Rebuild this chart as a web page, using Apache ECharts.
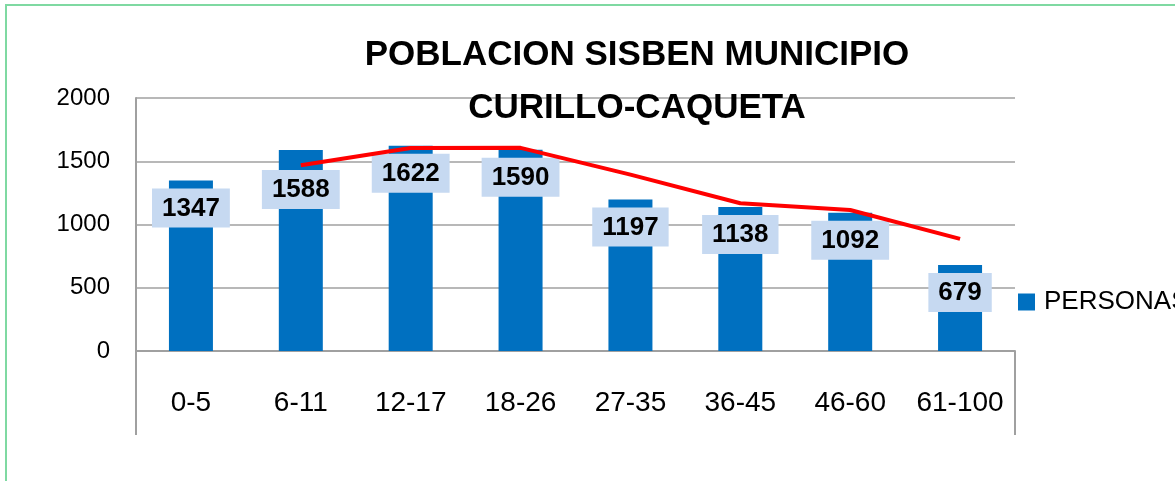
<!DOCTYPE html>
<html>
<head>
<meta charset="utf-8">
<style>
  html, body { margin: 0; padding: 0; background: #fff; }
  #chart { width: 1175px; height: 481px; }
</style>
<script src="https://cdn.jsdelivr.net/npm/echarts@6/dist/echarts.min.js"></script>
</head>
<body>
<div id="chart"></div>
<script>
const categories = ['0-5', '6-11', '12-17', '18-26', '27-35', '36-45', '46-60', '61-100']
const personas = [1347, 1588, 1622, 1590, 1197, 1138, 1092, 679]
// red trend line (starts at the second group)
const trend = [null, 1468, 1605, 1606, 1394, 1168, 1115, 886]
const yTicks = [0, 500, 1000, 1500, 2000]

const chart = echarts.init(document.getElementById('chart'))
const gridColor = '#a0a0a0'

chart.setOption({
  animation: false,
  backgroundColor: '#fff',
  textStyle: { fontFamily: 'Liberation Sans, Arial, sans-serif' },
  graphic: [{
    type: 'rect',
    shape: { x: 6, y: 5, width: 1300, height: 600 },
    style: { fill: 'none', stroke: '#7fd9a2', lineWidth: 2 }
  }],
  title: {
    text: 'POBLACION SISBEN MUNICIPIO\nCURILLO-CAQUETA',
    left: 632,
    top: 24,
    textAlign: 'center',
    textStyle: {
      fontSize: 35, fontWeight: 'bold', color: '#000', lineHeight: 53,
      fontFamily: 'Liberation Sans, Arial, sans-serif'
    }
  },
  legend: {
    data: [{ name: 'PERSONAS', icon: 'rect' }],
    left: 1013,
    top: 284,
    itemWidth: 17,
    itemHeight: 17,
    itemGap: 0,
    textStyle: { fontSize: 26, color: '#000', padding: [0, 0, 0, 4] }
  },
  grid: { left: 136, right: 160, top: 98, bottom: 130 },
  xAxis: {
    type: 'category',
    data: categories,
    axisLine: { lineStyle: { color: gridColor, width: 2 } },
    axisTick: {
      show: true,
      length: 84,
      interval: (i) => i === 0 || i === categories.length,
      lineStyle: { color: gridColor, width: 2 }
    },
    axisLabel: { interval: 0, fontSize: 28, color: '#000', margin: 38 }
  },
  yAxis: {
    type: 'value',
    min: yTicks[0],
    max: yTicks[yTicks.length - 1],
    interval: yTicks[1] - yTicks[0],
    axisLine: { show: true, lineStyle: { color: gridColor, width: 2 } },
    axisTick: { show: false },
    splitLine: { lineStyle: { color: gridColor, width: 1.5 } },
    axisLabel: { fontSize: 24, color: '#000', margin: 26, formatter: (v) => String(v) }
  },
  series: [
    {
      name: 'PERSONAS',
      type: 'bar',
      barWidth: 44,
      data: personas.map((v, i) => i === 1
        ? { value: v, label: { distance: 20 } }
        : v),
      itemStyle: { color: '#0070c0' },
      label: {
        show: true,
        position: 'insideTop',
        distance: 8,
        fontSize: 26,
        fontWeight: 'bold',
        color: '#000',
        backgroundColor: '#c6d9f1',
        padding: [7, 10, 6, 10]
      },
      z: 2
    },
    {
      name: 'trend',
      type: 'line',
      data: trend,
      showSymbol: false,
      symbol: 'none',
      lineStyle: { color: '#ff0000', width: 4 },
      z: 3
    }
  ]
})
</script>
</body>
</html>
